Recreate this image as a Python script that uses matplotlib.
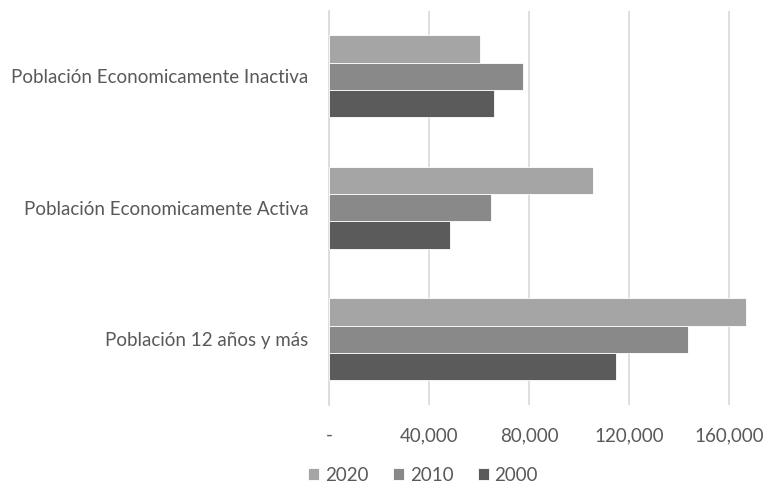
import matplotlib
matplotlib.use("Agg")
import matplotlib.pyplot as plt
import matplotlib.ticker as mticker
import numpy as np

categories = [
    "Población 12 años y más",
    "Población Economicamente Activa",
    "Población Economicamente Inactiva",
]
series_names = ["2020", "2010", "2000"]
values_2020 = [166700, 105600, 60300]
values_2010 = [143700, 64900, 77700]
values_2000 = [114800, 48300, 66000]
colors = ["#a5a5a5", "#898989", "#5b5b5b"]
x_ticks = [0, 40000, 80000, 120000, 160000]

plt.rcParams["font.family"] = ["Lato", "DejaVu Sans"]
text_color = "#595959"
grid_color = "#d9d9d9"

fig = plt.figure(figsize=(7.65, 4.84), dpi=100)
ax = fig.add_axes([329 / 765, 1 - 405 / 484, (765 - 329) / 765, 394.5 / 484])

y = np.arange(len(categories))
bar_h = 0.208
all_values = [values_2020, values_2010, values_2000]
for i, (name, vals, col) in enumerate(zip(series_names, all_values, colors)):
    offset = (1 - i) * bar_h
    ax.barh(y + offset, vals, height=bar_h, color=col, label=name,
            edgecolor="white", linewidth=0.6, zorder=3)

ax.set_ylim(-0.5, 2.5)
ax.set_xlim(0, (765 - 329) * 400)
ax.set_yticks(y)
ax.set_yticklabels(categories)
ax.set_xticks(x_ticks)
ax.xaxis.set_major_formatter(
    mticker.FuncFormatter(lambda v, p: "-" if v == 0 else f"{int(v):,}"))

ax.grid(axis="x", color=grid_color, linewidth=1.2, zorder=0)
for side in ["top", "right", "bottom"]:
    ax.spines[side].set_visible(False)
ax.spines["left"].set_color(grid_color)
ax.spines["left"].set_linewidth(1.2)
ax.tick_params(axis="both", length=0, labelsize=13.5, labelcolor=text_color)
ax.tick_params(axis="y", pad=15)
ax.tick_params(axis="x", pad=16)

ax.legend(loc="center", bbox_to_anchor=(423 / 765, 1 - 475.5 / 484),
          bbox_transform=fig.transFigure, ncol=3, frameon=False,
          handlelength=0.6, handleheight=0.6, handletextpad=0.3,
          columnspacing=1.3, fontsize=13.5, labelcolor=text_color,
          borderpad=0)

fig.savefig("out.png", dpi=100)
